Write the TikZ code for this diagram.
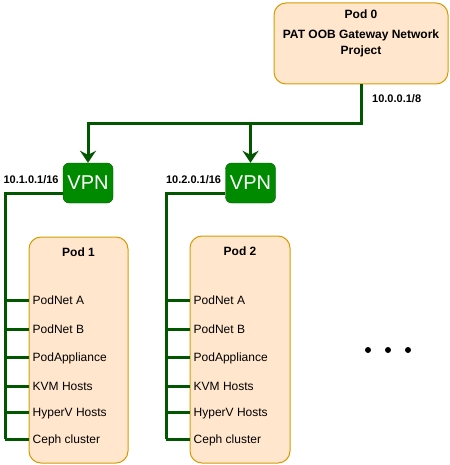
\documentclass[tikz,border=0pt]{standalone}
\usepackage{fontspec}
\setmainfont{Liberation Sans}
\usepackage{xcolor}
\usepackage{tikz}
\usetikzlibrary{arrows.meta,positioning}
\definecolor{podfill}{HTML}{FFE6CC}
\definecolor{podline}{HTML}{D79B00}
\definecolor{vpnfill}{HTML}{008A00}
\definecolor{vpnline}{HTML}{005700}

\begin{document}
\begin{tikzpicture}[x=1pt, y=-1pt, font=\fontsize{12}{16}\selectfont, pod/.style={draw=podline, fill=podfill, rounded corners=12pt, line width=1pt}, vpn/.style={draw=vpnline, fill=vpnfill, rounded corners=6pt, text=white, font=\fontsize{20}{24}\selectfont, minimum width=50pt, minimum height=40pt, inner sep=0pt}, title/.style={font=\bfseries\fontsize{12}{16}\selectfont, align=center, inner sep=0pt}, addr/.style={font=\bfseries\fontsize{11}{13}\selectfont, inner sep=0pt}, item/.style={anchor=west, inner xsep=4pt, inner ysep=0pt, text height=8.6pt, text depth=0pt}, link/.style={draw=vpnline, line width=3pt}, arr/.style={link, -{Stealth[length=12pt, width=16pt, inset=4pt]}}]
\useasboundingbox (0,0) rectangle (449,465);
% gateway pod
\node[pod, minimum width=174pt, minimum height=81pt] (pod0) at (361,43.5) {};
\node[title, below=7pt of pod0.north] (pod0t) {Pod 0\\[4pt]PAT OOB Gateway Network\\Project};
\node[addr, anchor=west] (addr0) at (372,99) {10.0.0.1/8};
% vpns
\node[vpn] (vpn1) at (88,183) {VPN};
\node[vpn] (vpn2) at (250.5,183) {VPN};
\node[addr, left=4pt of vpn1, yshift=3pt] (addr1) {10.1.0.1/16};
\node[addr, left=4pt of vpn2, yshift=3pt] (addr2) {10.2.0.1/16};
\coordinate (split) at (0,124);
\draw[arr] (pod0.south) |- (split -| vpn1.north) -- (vpn1.north);
\draw[arr] (split -| vpn2.north) -- (vpn2.north);
% pods
\node[pod, minimum width=99pt, minimum height=226pt] (pod1) at (78.5,350) {};
\node[pod, minimum width=100pt, minimum height=227pt] (pod2) at (240,349.5) {};
\node[title, below=11pt of pod1.north] (pod1t) {Pod 1};
\node[title, below=11pt of pod2.north] (pod2t) {Pod 2};
\coordinate (bus1) at (5,193);
\coordinate (bus2) at (166,193);
\foreach \p in {1,2} {
  \foreach \y/\n/\t in {300/a/PodNet A, 329/b/PodNet B, 357/c/PodAppliance, 386/d/KVM Hosts, 412/e/HyperV Hosts, 439/f/Ceph cluster} {
    \node[item] (p\p\n) at (pod\p.west |- 0,\y) {\t};
    \draw[link] (bus\p |- p\p\n.west) -- (p\p\n.west);
  }
  \draw[link] (vpn\p.west |- bus\p) -- (bus\p) -- (bus\p |- p\p f.west);
}
% more pods
\foreach \x in {368,388,408} \fill (\x,350) circle (3pt);
\end{tikzpicture}
\end{document}
